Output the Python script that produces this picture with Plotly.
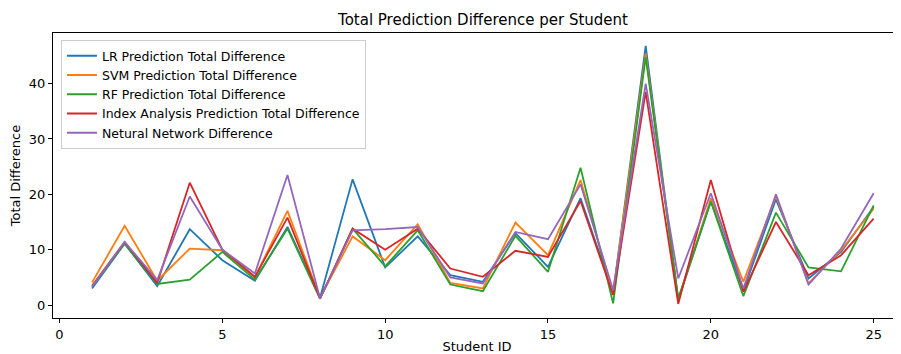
import plotly.graph_objects as go

student_ids = list(range(1, 26))

lr_diff = [3.0, 11.1, 3.4, 13.7, 8.1, 4.4, 14.1, 1.3, 22.7, 6.8, 12.4, 5.4, 4.2, 13.0, 6.9,
           19.3, 2.1, 46.8, 0.9, 18.7, 2.6, 19.1, 4.8, 9.6, 17.7]
svm_diff = [4.1, 14.3, 4.4, 10.2, 9.9, 5.0, 17.0, 1.3, 12.4, 8.1, 14.6, 4.0, 3.0, 14.9, 9.0,
            22.6, 2.1, 45.4, 0.9, 19.3, 4.2, 19.7, 3.9, 9.9, 17.4]
rf_diff = [3.3, 11.1, 3.8, 4.6, 9.6, 4.6, 13.8, 1.1, 13.8, 7.0, 13.5, 3.7, 2.5, 12.5, 6.0,
           24.8, 0.3, 44.8, 1.2, 18.7, 1.6, 16.7, 6.8, 6.1, 18.0]
ia_diff = [3.5, 11.4, 4.0, 22.1, 10.0, 5.1, 15.8, 1.2, 13.8, 10.0, 13.8, 6.6, 5.1, 9.8, 8.7,
           18.8, 1.8, 38.5, 0.2, 22.6, 2.4, 15.0, 5.4, 9.0, 15.6]
nn_diff = [3.3, 11.4, 4.5, 19.6, 10.0, 5.7, 23.5, 1.2, 13.5, 13.7, 14.1, 5.0, 3.9, 13.2, 11.9,
           21.8, 2.7, 40.0, 4.8, 20.2, 3.0, 20.0, 3.7, 10.2, 20.2]

series = [
    ("LR Prediction Total Difference", lr_diff, "#1f77b4"),
    ("SVM Prediction Total Difference", svm_diff, "#ff7f0e"),
    ("RF Prediction Total Difference", rf_diff, "#2ca02c"),
    ("Index Analysis Prediction Total Difference", ia_diff, "#d62728"),
    ("Netural Network Difference", nn_diff, "#9467bd"),
]

x_ticks = [0, 5, 10, 15, 20, 25]
y_ticks = [0, 10, 20, 30, 40]

fig = go.Figure()
for name, vals, color in series:
    fig.add_trace(go.Scatter(x=student_ids, y=vals, mode="lines", name=name,
                             line=dict(color=color, width=1.8)))

font_family = "DejaVu Sans"
W, H = 893, 346
fig.update_layout(
    width=W, height=H,
    margin=dict(l=45, r=0, t=25, b=36),
    paper_bgcolor="white", plot_bgcolor="white",
    font=dict(family=font_family, size=13, color="black"),
    title=dict(text="Total Prediction Difference per Student", x=475 / W, xanchor="center",
               y=1 - 12 / H, yanchor="middle", font=dict(size=15, color="black")),
    legend=dict(x=0.0094, y=0.975, xanchor="left", yanchor="top",
                bgcolor="rgba(255,255,255,0.8)", bordercolor="#cccccc", borderwidth=1,
                font=dict(size=12.5), tracegroupgap=0),
    showlegend=True,
)
fig.update_xaxes(range=[-0.2, 25.84], tickvals=x_ticks, showgrid=False, zeroline=False,
                 showline=True, linecolor="black", linewidth=1, mirror=True,
                 ticks="outside", ticklen=4, tickcolor="black", tickfont=dict(size=13),
                 title=dict(text="Student ID", standoff=3, font=dict(size=13)))
fig.update_yaxes(range=[-2.34, 49.14], tickvals=y_ticks, showgrid=False, zeroline=False,
                 showline=True, linecolor="black", linewidth=1, mirror=False,
                 ticks="outside", ticklen=4, tickcolor="black", tickfont=dict(size=13),
                 title=dict(text="Total Difference", standoff=6, font=dict(size=13)))

fig.write_html("out.html")
